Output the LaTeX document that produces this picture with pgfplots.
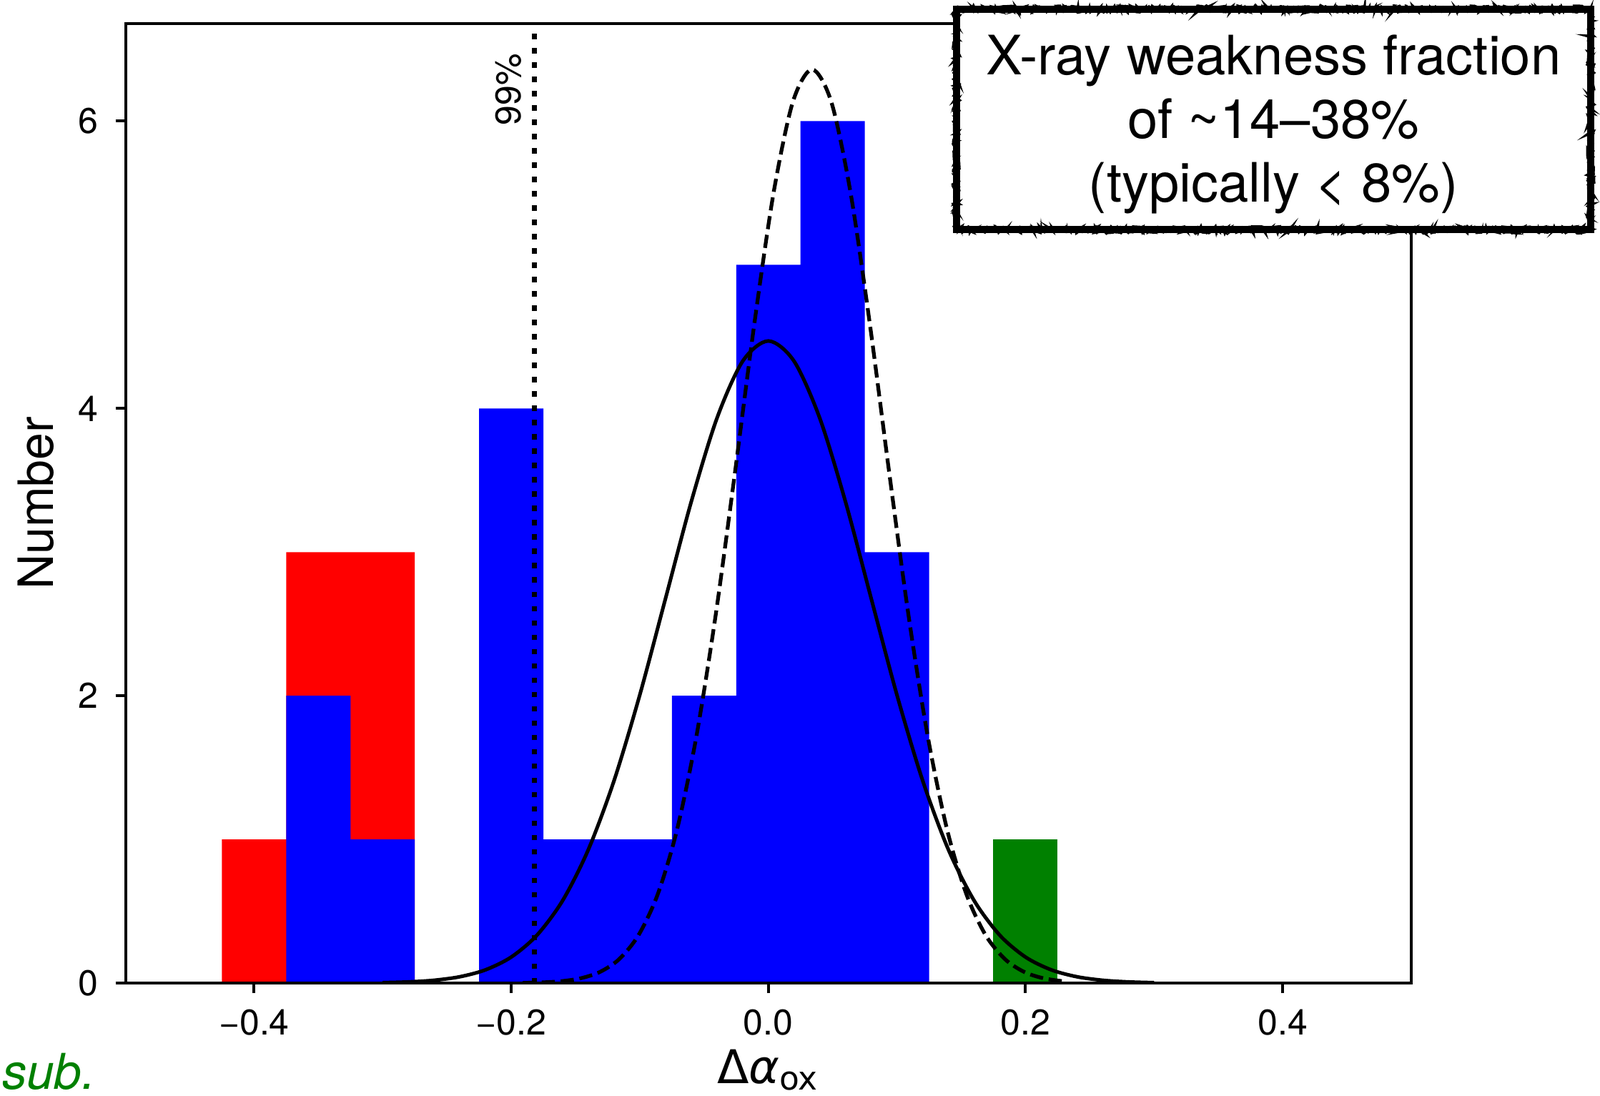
\documentclass[border=0pt]{standalone}
\usepackage{fontspec}
\setmainfont{TeX Gyre Heros}
\newfontfamily\dejavu{DejaVu Sans}
\usepackage{pgfplots}
\pgfplotsset{compat=1.18}
\usetikzlibrary{decorations.pathmorphing}
\definecolor{mplgreen}{rgb}{0,0.5,0}
\begin{document}
\begin{tikzpicture}
\useasboundingbox (-35.1pt,-31.5pt) rectangle (412.4pt,274.96pt);
\begin{axis}[
  at={(0,0)}, anchor=south west,
  scale only axis, width=359.6pt, height=268.4pt,
  xmin=-0.5, xmax=0.5, ymin=0, ymax=6.68,
  axis on top,
  axis line style={line width=0.8pt},
  tick align=outside, major tick length=2.8pt,
  tick style={line width=0.8pt, black},
  xtick pos=bottom, ytick pos=left,
  xtick={-0.4,-0.2,0,0.2,0.4}, xticklabels={−0.4,−0.2,0.0,0.2,0.4},
  ytick={0,2,4,6}, yticklabels={0,2,4,6},
  tick label style={font=\fontsize{10}{12}\selectfont},
  xticklabel style={anchor=base, yshift=-11.7pt},
  yticklabel style={xshift=-1.3pt},
  xlabel={{\dejavu Δ{\itshape α}\textsubscript{ox}}},
  ylabel={Number},
  x label style={at={(axis description cs:0.5,-0.1047)}, anchor=base, font=\fontsize{13}{15}\selectfont},
  y label style={at={(axis description cs:-0.0698,0.5)}, anchor=center, font=\fontsize{13.6}{16}\selectfont},
]
% total histogram (red)
\addplot[ybar interval, fill=red, draw=none] coordinates {
  (-0.425,1) (-0.375,3) (-0.325,3) (-0.275,0)
};
% subsample histogram (blue)
\addplot[ybar interval, fill=blue, draw=none] coordinates {
  (-0.375,2) (-0.325,1) (-0.275,0) (-0.225,4) (-0.175,1) (-0.125,1)
  (-0.075,2) (-0.025,5) (0.025,6) (0.075,3) (0.125,0)
};
% green
\addplot[ybar interval, fill=mplgreen, draw=none] coordinates {
  (0.175,1) (0.225,0)
};
% solid gaussian
\addplot[black, line width=1pt, smooth, no markers] coordinates {
  (-0.30,0.0033) (-0.28,0.0084) (-0.26,0.0199) (-0.24,0.0443) (-0.22,0.0925)
  (-0.20,0.1814) (-0.18,0.3335) (-0.16,0.5749) (-0.14,0.9297) (-0.12,1.410)
  (-0.10,2.006) (-0.08,2.677) (-0.06,3.350) (-0.04,3.932) (-0.02,4.329)
  (0.00,4.470)
  (0.02,4.329) (0.04,3.932) (0.06,3.350) (0.08,2.677) (0.10,2.006)
  (0.12,1.410) (0.14,0.9297) (0.16,0.5749) (0.18,0.3335) (0.20,0.1814)
  (0.22,0.0925) (0.24,0.0443) (0.26,0.0199) (0.28,0.0084) (0.30,0.0033)
};
% dashed gaussian
\addplot[black, line width=1.05pt, smooth, no markers, dash pattern=on 3.7pt off 1.6pt] coordinates {
  (-0.191,0.0018) (-0.176,0.0051) (-0.161,0.0136) (-0.146,0.0337) (-0.131,0.0778)
  (-0.116,0.1671) (-0.101,0.3336) (-0.086,0.6195) (-0.071,1.0692) (-0.056,1.7159)
  (-0.041,2.5605) (-0.026,3.5529) (-0.011,4.5835) (0.004,5.4984) (0.019,6.1327)
  (0.034,6.36)
  (0.049,6.1327) (0.064,5.4984) (0.079,4.5835) (0.094,3.5529) (0.109,2.5605)
  (0.124,1.7159) (0.139,1.0692) (0.154,0.6195) (0.169,0.3336) (0.184,0.1671)
  (0.199,0.0778) (0.214,0.0337) (0.229,0.0136)
};
% 99% threshold
\addplot[black, line width=1.5pt, dash pattern=on 1.5pt off 2.5pt, no markers] coordinates {
  (-0.182,0) (-0.182,6.61)
};
\node[rotate=90, font=\fontsize{10}{12}\selectfont] at (axis cs:-0.202,6.22) {99\%};
\end{axis}
% annotation box (sketchy border)
\draw[line width=2pt, fill=white] (232.4pt,210.7pt) rectangle (409.8pt,272.4pt);
\draw[line width=0.8pt, decorate, decoration={random steps, segment length=0.7pt, amplitude=0.9pt}] (232.4pt,210.7pt) rectangle (409.8pt,272.4pt);
\draw[line width=0.5pt, decorate, decoration={random steps, segment length=0.5pt, amplitude=1.1pt}] (232.4pt,210.7pt) rectangle (409.8pt,272.4pt);
\node[align=center, font=\fontsize{15.2}{17.8}\selectfont, yshift=-1.5pt] at (321.1pt,241.6pt)
  {X-ray weakness fraction\\of \textasciitilde14–38\%\\(typically < 8\%)};
% text at lower left (partly outside in the reference)
\node[anchor=base east, inner sep=0pt, text=mplgreen, font=\fontsize{13.8}{16}\selectfont\itshape] at (-8.2pt,-29.6pt) {sub.};
\end{tikzpicture}
\end{document}
